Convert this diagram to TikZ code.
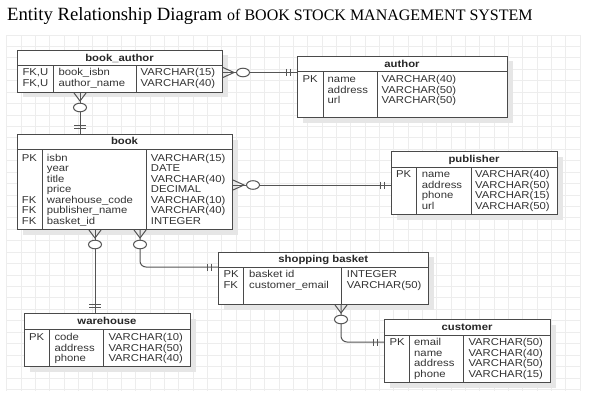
\documentclass[tikz,border=0pt]{standalone}
\usepackage{fontspec}
\setmainfont{Liberation Serif}
\newfontfamily\erfont{Liberation Sans}[FakeStretch=1.13]
\usepackage{xcolor}
\usepackage{tikz}
\usetikzlibrary{shadows}

\definecolor{gridgray}{HTML}{EDEDED}
\definecolor{boxline}{HTML}{4A4A4A}
\definecolor{linkgray}{HTML}{555555}
\definecolor{shade}{HTML}{E6E6E6}

\newcommand{\ertable}[8]{%
  \node[entity, minimum width=#5pt, minimum height=#6pt, anchor=north west] (#1) at (#3,#4) {};
  \draw[divider] (#1.west |- 0,#7) -- (#1.east |- 0,#7);
  \foreach \d in {#8} \draw[divider] (\d,#7) -- (\d,0 |- #1.south);
  \node[hdr] (#1-title) at ({#3+#5/2},{#7-4.5}) {#2};
}
\newcommand{\erfields}[6]{%
  \foreach \k/\f/\t [count=\i from 0] in {#6} {
    \node[cell] (#1-k\i) at (#2,{#5+10.5*\i}) {\k};
    \node[cell] (#1-f\i) at (#3,{#5+10.5*\i}) {\f};
    \node[cell] (#1-t\i) at (#4,{#5+10.5*\i}) {\t};
  }
}

\begin{document}
\begin{tikzpicture}[x=1pt,y=-1pt,
  gridline/.style={gridgray,line width=0.8pt},
  entity/.style={draw=boxline,line width=1pt,fill=white,inner sep=0pt,
    drop shadow={shadow xshift=5pt,shadow yshift=-5pt,fill=shade,opacity=1}},
  divider/.style={boxline,line width=1pt},
  hdr/.style={anchor=base,inner sep=0pt,font=\erfont\bfseries\fontsize{10}{10}\selectfont,text=black!85},
  cell/.style={anchor=base west,inner sep=0pt,font=\erfont\fontsize{10}{10}\selectfont,text=black!80},
  link/.style={linkgray,line width=1pt},
  zmright/.pic={\draw[link] (0,-5) -- (11,0) -- (0,5);
    \draw[link,fill=white] (20,0) ellipse [x radius=6.5pt,y radius=4.3pt];},
  zmdown/.pic={\draw[link] (-6,0) -- (0,8) -- (6,0);
    \draw[link,fill=white] (0,14.5) ellipse [x radius=6.5pt,y radius=4.3pt];},
  barleft/.pic={\draw[link] (-11,-3.5) -- (-11,3.5) (-7,-3.5) -- (-7,3.5);},
  bartop/.pic={\draw[link] (-6,-9) -- (6,-9) (-6,-6) -- (6,-6);}]
\useasboundingbox (0,0) rectangle (596,401);

\foreach \k in {0,...,40} \draw[gridline] ({6.7+14.333*\k},35) -- ({6.7+14.333*\k},391);
\foreach \k in {0,...,31} \draw[gridline] (6,{35+11.43*\k}) -- (581,{35+11.43*\k});

\node[anchor=base west,inner sep=0pt,font=\fontsize{18.7}{18.7}\selectfont] (title) at (7,21) {Entity Relationship Diagram};
\node[anchor=base west,inner sep=0pt,font=\fontsize{16}{16}\selectfont] (subtitle) at (227,21) {of BOOK STOCK MANAGEMENT SYSTEM};

\ertable{bookauthor}{book\_author}{17}{50}{205}{42}{65.7}{53.3,136}
\erfields{bookauthor}{22.3}{58.3}{140.5}{76}{{FK,U}/book\_isbn/VARCHAR(15),{FK,U}/author\_name/VARCHAR(40)}

\ertable{author}{author}{297}{56}{210}{61}{71.7}{323,377}
\erfields{author}{302.5}{327.5}{381.5}{82.7}{PK/name/VARCHAR(40),/address/VARCHAR(50),/url/VARCHAR(50)}

\ertable{book}{book}{17}{134}{215}{95}{149}{42.3,146}
\erfields{book}{21.7}{46.7}{150.7}{161.2}{PK/isbn/VARCHAR(15),/year/DATE,/title/VARCHAR(40),/price/DECIMAL,FK/warehouse\_code/VARCHAR(10),FK/publisher\_name/VARCHAR(40),FK/basket\_id/INTEGER}

\ertable{publisher}{publisher}{391}{151}{166}{63}{167}{416,471}
\erfields{publisher}{396}{421.7}{475}{177.8}{PK/name/VARCHAR(40),/address/VARCHAR(50),/phone/VARCHAR(15),/url/VARCHAR(50)}

\ertable{warehouse}{warehouse}{24}{313.3}{166}{52.7}{329.3}{49.3,103.3}
\erfields{warehouse}{29}{54.3}{108.3}{340.5}{PK/code/VARCHAR(10),/address/VARCHAR(50),/phone/VARCHAR(40)}

\ertable{basket}{shopping basket}{218.3}{251.7}{210}{52.3}{267.3}{243.3,341.7}
\erfields{basket}{223.3}{249}{346.7}{277.8}{PK/basket id/INTEGER,FK/customer\_email/VARCHAR(50)}

\ertable{customer}{customer}{384}{319}{166}{63.3}{335}{409.3,463.3}
\erfields{customer}{389.3}{414}{468.3}{345.8}{PK/email/VARCHAR(50),/name/VARCHAR(40),/address/VARCHAR(50),/phone/VARCHAR(15)}

\draw[link] (bookauthor.east |- 0,72.5) -- (author.west |- 0,72.5);
\pic at (bookauthor.east |- 0,72.5) {zmright};
\pic at (author.west |- 0,72.5) {barleft};

\draw[link] (bookauthor.south -| 80,0) -- (book.north -| 80,0);
\pic at (bookauthor.south -| 80,0) {zmdown};
\pic at (book.north -| 80,0) {bartop};

\draw[link] (book.east |- 0,185) -- (publisher.west |- 0,185);
\pic at (book.east |- 0,185) {zmright};
\pic at (publisher.west |- 0,185) {barleft};

\draw[link] (book.south -| 95,0) -- (warehouse.north -| 95,0);
\pic at (book.south -| 95,0) {zmdown};
\pic at (warehouse.north -| 95,0) {bartop};

\draw[link,rounded corners=6pt] (book.south -| 140,0) |- (basket.west |- 0,267);
\pic at (book.south -| 140,0) {zmdown};
\pic at (basket.west |- 0,267) {barleft};

\draw[link,rounded corners=6pt] (basket.south -| 341,0) |- (customer.west |- 0,342);
\pic at (basket.south -| 341,0) {zmdown};
\pic at (customer.west |- 0,342) {barleft};
\end{tikzpicture}
\end{document}
